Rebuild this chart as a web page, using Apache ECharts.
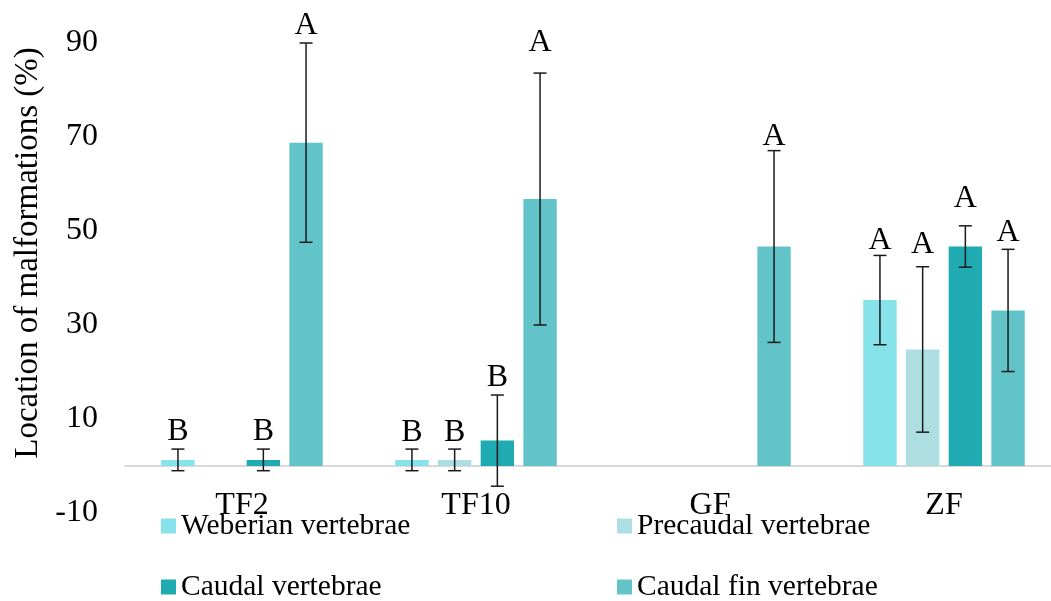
<!DOCTYPE html>
<html>
<head>
<meta charset="utf-8">
<script src="https://cdn.jsdelivr.net/npm/echarts@6/dist/echarts.min.js"></script>
<style>
html,body{margin:0;padding:0;background:#fff;overflow:hidden;}
#chart{width:1061px;height:601px;}
</style>
</head>
<body>
<div id="chart"></div>
<script>
const categories = ['TF2', 'TF10', 'GF', 'ZF'];
const seriesNames = ['Weberian vertebrae', 'Precaudal vertebrae', 'Caudal vertebrae', 'Caudal fin vertebrae'];
const weberian = [1.3, 1.3, null, 35.3];
const precaudal = [0, 1.3, null, 24.8];
const caudal = [1.3, 5.4, null, 46.7];
const caudalFin = [68.8, 56.8, 46.7, 33.1];
const weberianErr = [2.3, 2.3, null, 9.5];
const precaudalErr = [null, 2.3, null, 17.6];
const caudalErr = [2.3, 9.7, null, 4.4];
const caudalFinErr = [21.2, 26.8, 20.4, 13.0];
const weberianLetters = ['B', 'B', '', 'A'];
const precaudalLetters = ['', 'B', '', 'A'];
const caudalLetters = ['B', 'B', '', 'A'];
const caudalFinLetters = ['A', 'A', 'A', 'A'];
// value (in %) at which each significance letter sits
const weberianLetterAt = [5.3, 5.1, null, 45.9];
const precaudalLetterAt = [null, 5.1, null, 45.0];
const caudalLetterAt = [5.3, 16.8, null, 54.8];
const caudalFinLetterAt = [91.6, 88.0, 68.0, 47.6];
const yTicks = [-10, 10, 30, 50, 70, 90];
const colors = ['#86E3EA', '#ADDFE2', '#20AAB1', '#62C4C9'];

const values = [weberian, precaudal, caudal, caudalFin];
const errs = [weberianErr, precaudalErr, caudalErr, caudalFinErr];
const letters = [weberianLetters, precaudalLetters, caudalLetters, caudalFinLetters];
const letterAt = [weberianLetterAt, precaudalLetterAt, caudalLetterAt, caudalFinLetterAt];

const FONT = '"Liberation Serif", "Times New Roman", serif';
const CAT_GAP = 0.31, BAR_GAP = 0.28, N = 4;

const chart = echarts.init(document.getElementById('chart'));

const barSeries = seriesNames.map((name, i) => ({
  name: name,
  type: 'bar',
  data: values[i],
  itemStyle: { color: colors[i] },
  barGap: (BAR_GAP * 100) + '%',
  barCategoryGap: (CAT_GAP * 100) + '%',
  z: 2
}));

const errSeries = seriesNames.map((name, i) => ({
  type: 'custom',
  name: name + ' err',
  z: 5,
  clip: false,
  encode: { x: 0, y: 1 },
  data: categories.map((c, k) => [k, values[i][k], errs[i][k]]),
  renderItem: function (params, api) {
    const k = api.value(0);
    const v = api.value(1);
    const e = api.value(2);
    const letter = letters[i][k];
    if (v === null || v === undefined || isNaN(v) || e === null || e === undefined || isNaN(e)) return null;
    const catW = api.size([1, 0])[0];
    const w = catW * (1 - CAT_GAP) / (N + (N - 1) * BAR_GAP);
    const off = (i - (N - 1) / 2) * w * (1 + BAR_GAP);
    const base = api.coord([k, v]);
    const x = base[0] + off;
    const yTop = api.coord([k, v + e])[1];
    const yBot = api.coord([k, v - e])[1];
    const cap = 6.5;
    const ls = { stroke: '#1a1a1a', lineWidth: 1.5 };
    const children = [
      { type: 'line', shape: { x1: x, y1: yTop, x2: x, y2: yBot }, style: ls },
      { type: 'line', shape: { x1: x - cap, y1: yTop, x2: x + cap, y2: yTop }, style: ls },
      { type: 'line', shape: { x1: x - cap, y1: yBot, x2: x + cap, y2: yBot }, style: ls }
    ];
    if (letter) {
      const ly = api.coord([k, letterAt[i][k]])[1];
      children.push({
        type: 'text',
        style: { text: letter, x: x, y: ly + 6.5, textAlign: 'center', textVerticalAlign: 'bottom',
          font: '32px ' + FONT, fill: '#000' }
      });
    }
    return { type: 'group', children: children };
  }
}));

const legendCommon = {
  orient: 'horizontal', itemWidth: 15, itemHeight: 15, icon: 'rect',
  textStyle: { fontFamily: FONT, fontSize: 29.5, color: '#000' }
};

chart.setOption({
  animation: false,
  backgroundColor: '#fff',
  grid: { left: 125, right: 0, top: 43, bottom: 88, containLabel: false },
  xAxis: {
    type: 'category',
    data: categories,
    axisLine: { onZero: true, lineStyle: { color: '#D9D9D9', width: 2 } },
    axisTick: { show: false },
    axisLabel: { fontFamily: FONT, fontSize: 32, color: '#000', margin: -23 },
    splitLine: { show: false }
  },
  yAxis: {
    type: 'value',
    min: -10, max: 90, interval: 20,
    axisLine: { show: false },
    axisTick: { show: false },
    splitLine: { show: false },
    axisLabel: { fontFamily: FONT, fontSize: 32, color: '#000', margin: 27,
      formatter: v => (yTicks.indexOf(v) >= 0 ? String(v) : '') }
  },
  legend: [
    Object.assign({ data: [seriesNames[0]], left: 156, top: 506 }, legendCommon),
    Object.assign({ data: [seriesNames[2]], left: 156, top: 567 }, legendCommon),
    Object.assign({ data: [seriesNames[1]], left: 612, top: 506 }, legendCommon),
    Object.assign({ data: [seriesNames[3]], left: 612, top: 567 }, legendCommon)
  ],
  graphic: [{
    type: 'text', x: 28, y: 253, rotation: Math.PI / 2,
    style: { text: 'Location of malformations (%)', textAlign: 'center', textVerticalAlign: 'middle',
      font: '33px ' + FONT, fill: '#000' }
  }],
  series: barSeries.concat(errSeries)
});
</script>
</body>
</html>
